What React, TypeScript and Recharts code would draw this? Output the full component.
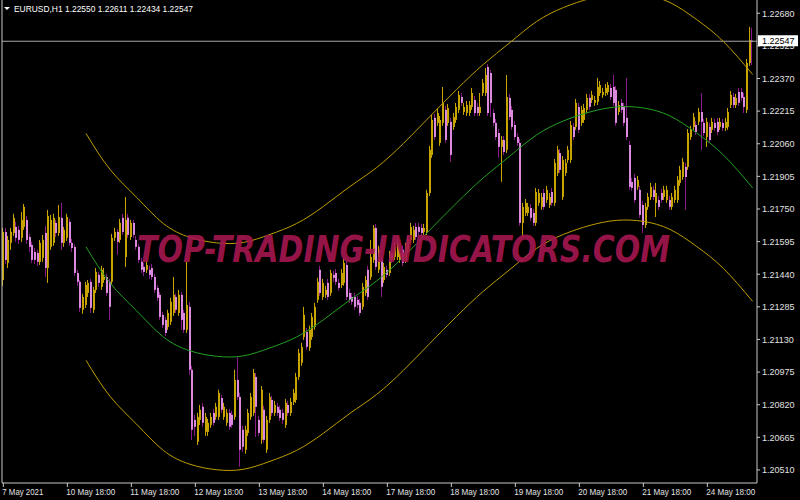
import { ComposedChart, Bar, Line, XAxis, YAxis, ReferenceLine } from 'recharts';

// EURUSD H1 candles, values in points above 1.20000 (1 point = 0.00001)
const opens = [
  1413, 1641, 1494, 1589, 1636, 1665, 1651, 1613, 1665, 1698, 1617, 1579, 1546, 1541, 1499, 1518, 1636, 1470, 1570, 1589,
  1684, 1636, 1708, 1589, 1613, 1689, 1589, 1570, 1446, 1404, 1271, 1294, 1351, 1404, 1271, 1366, 1437, 1380, 1413, 1427,
  1404, 1404, 1613, 1641, 1603, 1708, 1522, 1708, 1617, 1684, 1603, 1570, 1499, 1475, 1461, 1461, 1470, 1427, 1375, 1342,
  1247, 1223, 1190, 1214, 1256, 1332, 1256, 1342, 1256, 1176, 1285, 986, 748, 644, 748, 810, 691, 691, 724, 781,
  762, 762, 852, 762, 734, 781, 772, 762, 938, 857, 701, 606, 686, 762, 781, 952, 748, 653, 796, 606,
  748, 843, 781, 810, 796, 781, 724, 819, 781, 833, 843, 952, 1019, 1142, 1166, 1090, 1142, 1190, 1318, 1461,
  1332, 1342, 1399, 1351, 1437, 1446, 1399, 1389, 1399, 1484, 1351, 1332, 1332, 1318, 1304, 1285, 1351, 1461, 1427, 1508,
  1660, 1461, 1508, 1413, 1461, 1446, 1541, 1522, 1522, 1508, 1556, 1508, 1556, 1603, 1603, 1665, 1665, 1660, 1641, 1641,
  1826, 2007, 2183, 2159, 2064, 2159, 2221, 2159, 2164, 2140, 2173, 2221, 2282, 2211, 2206, 2206, 2235, 2268, 2235, 2206,
  2301, 2301, 2425, 2396, 2206, 2159, 2111, 2045, 2078, 2031, 2278, 2221, 2149, 2092, 2064, 1684, 1731, 1731, 1755, 1731,
  1684, 1779, 1760, 1826, 1793, 1769, 1831, 1779, 1921, 2016, 1807, 1921, 1983, 1983, 2140, 2140, 2235, 2159, 2173, 2221,
  2278, 2268, 2254, 2259, 2301, 2292, 2301, 2306, 2325, 2330, 2316, 2211, 2254, 2235, 2183, 2054, 1879, 1898, 1855, 1841,
  1769, 1674, 1760, 1807, 1841, 1779, 1793, 1826, 1807, 1793, 1793, 1760, 1793, 1793, 1874, 1902, 1950, 1950, 2092, 2140,
  2149, 2164, 2211, 2159, 2092, 2140, 2126, 2159, 2164, 2140, 2159, 2135, 2140, 2244, 2282, 2244, 2306, 2306, 2282, 2221,
  2444, 2550,
];
const highs = [
  1660, 1660, 1622, 1660, 1727, 1689, 1670, 1736, 1774, 1717, 1632, 1594, 1565, 1556, 1603, 1627, 1670, 1746, 1722, 1727,
  1698, 1769, 1779, 1665, 1727, 1703, 1608, 1584, 1461, 1413, 1347, 1404, 1413, 1418, 1380, 1470, 1451, 1480, 1470, 1442,
  1418, 1632, 1660, 1655, 1703, 1727, 1807, 1727, 1698, 1698, 1622, 1584, 1518, 1494, 1503, 1480, 1489, 1442, 1389, 1356,
  1261, 1237, 1271, 1328, 1427, 1347, 1366, 1356, 1271, 1499, 1309, 1005, 772, 781, 819, 829, 781, 753, 781, 800,
  829, 891, 867, 829, 800, 800, 791, 986, 1047, 876, 720, 720, 800, 876, 990, 971, 767, 909, 815, 767,
  876, 862, 838, 829, 815, 800, 848, 838, 852, 895, 971, 1085, 1114, 1285, 1185, 1195, 1256, 1304, 1423, 1480,
  1418, 1385, 1418, 1461, 1456, 1465, 1418, 1465, 1513, 1503, 1370, 1351, 1351, 1337, 1323, 1399, 1432, 1480, 1603, 1674,
  1679, 1575, 1527, 1494, 1480, 1551, 1560, 1589, 1608, 1560, 1575, 1589, 1622, 1684, 1670, 1684, 1684, 1679, 1679, 1841,
  2050, 2197, 2202, 2225, 2192, 2330, 2240, 2249, 2183, 2206, 2254, 2311, 2301, 2254, 2263, 2263, 2325, 2287, 2254, 2301,
  2368, 2420, 2439, 2411, 2225, 2178, 2130, 2097, 2097, 2387, 2297, 2240, 2168, 2111, 2083, 1779, 1798, 1779, 1774, 1750,
  1850, 1845, 1826, 1845, 1860, 1826, 1850, 1988, 2050, 2035, 2002, 1988, 2050, 2168, 2159, 2273, 2254, 2240, 2249, 2297,
  2297, 2311, 2287, 2373, 2358, 2325, 2344, 2353, 2344, 2387, 2335, 2263, 2273, 2254, 2373, 2073, 1898, 1917, 1907, 1860,
  1788, 1779, 1826, 1874, 1860, 1874, 1812, 1845, 1860, 1860, 1812, 1826, 1860, 1907, 1955, 1993, 1969, 2130, 2145, 2206,
  2168, 2230, 2301, 2178, 2183, 2159, 2183, 2178, 2183, 2183, 2178, 2183, 2230, 2311, 2301, 2297, 2325, 2325, 2301, 2463,
  2615, 2611,
];
const lows = [
  1385, 1489, 1470, 1556, 1622, 1594, 1584, 1594, 1651, 1584, 1546, 1494, 1489, 1480, 1484, 1499, 1427, 1399, 1556, 1575,
  1617, 1622, 1556, 1570, 1598, 1575, 1546, 1432, 1385, 1261, 1252, 1280, 1332, 1256, 1256, 1351, 1380, 1366, 1399, 1337,
  1223, 1389, 1598, 1532, 1589, 1627, 1475, 1613, 1603, 1613, 1556, 1494, 1446, 1432, 1446, 1418, 1413, 1351, 1313, 1223,
  1185, 1147, 1176, 1199, 1242, 1256, 1242, 1176, 1161, 1161, 962, 653, 672, 629, 724, 715, 672, 672, 710, 720,
  748, 748, 781, 748, 720, 701, 710, 748, 843, 525, 596, 587, 672, 748, 767, 667, 672, 634, 639, 591,
  734, 767, 767, 767, 743, 729, 710, 767, 767, 819, 829, 938, 1005, 1128, 1081, 1076, 1128, 1176, 1304, 1337,
  1318, 1328, 1318, 1337, 1404, 1389, 1361, 1375, 1385, 1318, 1304, 1294, 1271, 1280, 1242, 1271, 1337, 1318, 1413, 1494,
  1461, 1446, 1332, 1399, 1423, 1432, 1494, 1508, 1508, 1494, 1480, 1494, 1541, 1589, 1589, 1603, 1627, 1622, 1627, 1627,
  1812, 1993, 2078, 2145, 2050, 2145, 2064, 2145, 1974, 2126, 2159, 2206, 2240, 2197, 2192, 2192, 2221, 2192, 2192, 2192,
  2287, 2287, 2192, 2187, 2145, 2078, 1993, 1879, 2007, 2016, 2173, 2126, 2078, 2050, 1670, 1617, 1717, 1717, 1693, 1670,
  1670, 1765, 1746, 1746, 1779, 1755, 1765, 1765, 1907, 1921, 1793, 1907, 1969, 1969, 2078, 2126, 2111, 2145, 2159, 2206,
  2221, 2254, 2240, 2244, 2287, 2278, 2287, 2292, 2268, 2240, 2145, 2197, 2206, 2145, 2078, 1841, 1836, 1779, 1841, 1708,
  1636, 1660, 1746, 1793, 1793, 1712, 1746, 1779, 1793, 1779, 1746, 1746, 1779, 1779, 1860, 1888, 1746, 1936, 2078, 2126,
  2102, 2149, 2031, 2097, 2045, 2064, 2111, 2121, 2102, 2126, 2121, 2121, 2126, 2230, 2230, 2230, 2240, 2263, 2206, 2206,
  2430, 2434,
];
const closes = [
  1641, 1508, 1603, 1641, 1708, 1613, 1603, 1698, 1760, 1603, 1570, 1508, 1508, 1499, 1589, 1603, 1470, 1717, 1698, 1708,
  1636, 1712, 1589, 1651, 1712, 1589, 1565, 1446, 1404, 1280, 1332, 1389, 1399, 1280, 1366, 1451, 1399, 1461, 1427, 1351,
  1285, 1613, 1641, 1594, 1684, 1641, 1698, 1627, 1684, 1627, 1570, 1508, 1461, 1451, 1484, 1437, 1427, 1366, 1328, 1237,
  1199, 1161, 1256, 1309, 1342, 1271, 1342, 1223, 1176, 1294, 986, 701, 715, 762, 796, 734, 762, 734, 762, 734,
  810, 876, 796, 810, 781, 715, 724, 938, 857, 606, 620, 701, 781, 857, 971, 810, 686, 891, 653, 748,
  857, 781, 819, 781, 757, 748, 829, 781, 833, 876, 952, 1066, 1095, 1247, 1095, 1176, 1237, 1285, 1404, 1351,
  1399, 1366, 1332, 1446, 1423, 1404, 1375, 1446, 1494, 1332, 1318, 1309, 1285, 1294, 1256, 1380, 1413, 1332, 1522, 1660,
  1475, 1556, 1380, 1475, 1437, 1532, 1508, 1570, 1589, 1541, 1494, 1570, 1603, 1665, 1651, 1617, 1641, 1636, 1660, 1826,
  2031, 2173, 2092, 2206, 2173, 2254, 2078, 2230, 2007, 2187, 2235, 2292, 2254, 2235, 2244, 2244, 2301, 2206, 2206, 2235,
  2349, 2387, 2206, 2254, 2159, 2092, 2045, 2078, 2021, 2282, 2187, 2140, 2092, 2064, 1684, 1760, 1779, 1760, 1708, 1684,
  1831, 1826, 1807, 1760, 1841, 1807, 1779, 1969, 2031, 1936, 1983, 1969, 2031, 2149, 2092, 2254, 2126, 2221, 2230, 2278,
  2235, 2292, 2268, 2330, 2339, 2306, 2325, 2339, 2282, 2254, 2159, 2244, 2221, 2159, 2092, 1855, 1850, 1793, 1888, 1722,
  1674, 1760, 1807, 1855, 1807, 1826, 1760, 1793, 1841, 1841, 1760, 1807, 1841, 1888, 1936, 1974, 1902, 2111, 2126, 2187,
  2116, 2211, 2164, 2111, 2164, 2078, 2164, 2135, 2116, 2164, 2135, 2164, 2211, 2292, 2244, 2278, 2254, 2278, 2235, 2444,
  2553, 2547,
];

// regression channel, read at these bars (points above 1.20000)
const bandBars = [31, 40, 50, 60, 70, 80, 90, 100, 110, 120, 130, 140, 150, 160, 170, 180, 190, 200, 210, 220, 230, 240, 250, 260, 270, 281];
const midBand = [1570, 1399, 1266, 1142, 1076, 1050, 1052, 1090, 1142, 1223, 1318, 1408, 1522, 1651, 1779, 1898, 2002, 2102, 2168, 2211, 2235, 2230, 2192, 2111, 2007, 1850];
const upperBand = [2109, 1938, 1805, 1681, 1615, 1589, 1591, 1629, 1681, 1762, 1857, 1947, 2061, 2190, 2318, 2437, 2541, 2641, 2707, 2750, 2774, 2769, 2731, 2650, 2546, 2389];
const lowerBand = [1031, 860, 727, 603, 537, 511, 513, 551, 603, 684, 779, 869, 983, 1112, 1240, 1359, 1463, 1563, 1629, 1672, 1696, 1691, 1653, 1572, 1468, 1311];

const dateTicks = [0, 24, 48, 72, 96, 120, 144, 168, 192, 216, 240, 264];
const dateLabels = ['7 May 2021', '10 May 18:00', '11 May 18:00', '12 May 18:00', '13 May 18:00', '14 May 18:00',
  '17 May 18:00', '18 May 18:00', '19 May 18:00', '20 May 18:00', '21 May 18:00', '24 May 18:00'];

const priceTicks = [1.2051, 1.20665, 1.2082, 1.20975, 1.2113, 1.21285, 1.2144, 1.21595, 1.2175, 1.21905,
  1.2206, 1.22215, 1.2237, 1.22525, 1.2268];
const bidPrice = 1.22547;
const header = 'EURUSD,H1  1.22550 1.22611 1.22434 1.22547';
const watermark = 'TOP-TRADING-INDICATORS.COM';

const toPrice = (p: number) => 1.2 + p / 100000;

const data = closes.map((c, i) => {
  const k = bandBars.indexOf(i);
  return {
    i,
    open: toPrice(opens[i]),
    high: toPrice(highs[i]),
    low: toPrice(lows[i]),
    close: toPrice(c),
    range: [toPrice(lows[i]), toPrice(highs[i])],
    mid: k >= 0 ? toPrice(midBand[k]) : null,
    upper: k >= 0 ? toPrice(upperBand[k]) : null,
    lower: k >= 0 ? toPrice(lowerBand[k]) : null,
  };
});

const AXIS = '#c8c8c8';
const BULL = '#c8a400';
const BAND = '#bf9c00';

const Candle = (props: any) => {
  const { x, y, width, height, payload } = props;
  if (x == null || !payload) return null;
  const top0 = Math.min(y, y + height);
  const h = Math.abs(height);
  const { open, close, high, low } = payload;
  const py = (v: number) => top0 + ((high - v) / (high - low)) * h;
  const up = close >= open;
  const left = Math.round(x + width / 2 - 1);
  const bt = py(Math.max(open, close));
  const bb = py(Math.min(open, close));
  return (
    <g>
      <rect x={left} y={top0} width={1} height={h} fill={up ? BULL : '#8a1a8a'} />
      <rect x={left} y={bt} width={2} height={Math.max(1, bb - bt)} fill={up ? BULL : '#dc8ade'} />
    </g>
  );
};

const DateTick = (props: any) => {
  const { x, y, payload } = props;
  const k = dateTicks.indexOf(Number(payload.value));
  if (k < 0) return <g />;
  return (
    <g>
      <line x1={x} x2={x} y1={y} y2={y + 4} stroke={AXIS} />
      <text x={x - 1} y={y + 12} fill="#e0e0e0" fontSize={9} fontFamily="Liberation Sans"
        textLength={k === 0 ? 41 : 49} lengthAdjust="spacingAndGlyphs">
        {dateLabels[k]}
      </text>
    </g>
  );
};

const PriceTick = (props: any) => {
  const { x, y, payload } = props;
  const v = Number(payload.value);
  if (v === bidPrice) {
    return (
      <g>
        <rect x={x + 1} y={y - 6} width={40} height={11} fill="#ffffff" />
        <text x={x + 5} y={y + 3} fill="#000" fontSize={9} fontFamily="Liberation Sans">{v.toFixed(5)}</text>
      </g>
    );
  }
  return (
    <g>
      <line x1={x} x2={x + 3} y1={y} y2={y} stroke={AXIS} />
      <text x={x + 5} y={y + 3.3} fill="#e0e0e0" fontSize={9} fontFamily="Liberation Sans">{v.toFixed(5)}</text>
    </g>
  );
};

export default function App() {
  return (
    <div style={{ position: 'absolute', left: 0, top: 0, width: 800, height: 500, background: '#000' }}>
      <ComposedChart width={800} height={500} data={data} margin={{ top: 0, right: 0, bottom: 0, left: 0 }}>
        <XAxis dataKey="i" type="category" interval={0} height={17} padding={{ left: 0, right: 3 }}
          tickSize={0} tickMargin={0} tickLine={false} axisLine={{ stroke: AXIS }} tick={<DateTick />} />
        <YAxis yAxisId="frame" orientation="left" width={2} domain={[0, 1]} tick={false} tickLine={false}
          axisLine={{ stroke: AXIS }} />
        <YAxis yAxisId="p" orientation="right" type="number" domain={[1.20448, 1.22743]} allowDataOverflow
          ticks={[...priceTicks, bidPrice]} interval={0} width={43} tickSize={0} tickMargin={0}
          tickLine={false} axisLine={{ stroke: AXIS }} tick={<PriceTick />} />
        <ReferenceLine yAxisId="p" y={bidPrice} stroke="#a8a8a8" />
        <Bar yAxisId="p" dataKey="range" barSize={2} shape={<Candle />} isAnimationActive={false} />
        <Line yAxisId="p" dataKey="upper" type="natural" stroke={BAND} strokeWidth={1} dot={false}
          activeDot={false} connectNulls isAnimationActive={false} />
        <Line yAxisId="p" dataKey="mid" type="natural" stroke="#23a023" strokeWidth={1} dot={false}
          activeDot={false} connectNulls isAnimationActive={false} />
        <Line yAxisId="p" dataKey="lower" type="natural" stroke={BAND} strokeWidth={1} dot={false}
          activeDot={false} connectNulls isAnimationActive={false} />
      </ComposedChart>
      <svg width={800} height={500} style={{ position: 'absolute', left: 0, top: 0, pointerEvents: 'none' }}>
        <polygon points="4,7 10,7 7,10" fill="#ffffff" />
        <text x={14} y={12} fill="#ffffff" fontSize={9} fontFamily="Liberation Sans" textLength={179}
          lengthAdjust="spacingAndGlyphs">{header}</text>
        <text x={137} y={262} fill="#a5174f" fillOpacity={0.92} fontSize={38} fontWeight="bold" fontStyle="italic"
          fontFamily="'DejaVu Sans Condensed', 'Liberation Sans Narrow', 'DejaVu Sans'" textLength={533}
          lengthAdjust="spacingAndGlyphs">{watermark}</text>
      </svg>
    </div>
  );
}
